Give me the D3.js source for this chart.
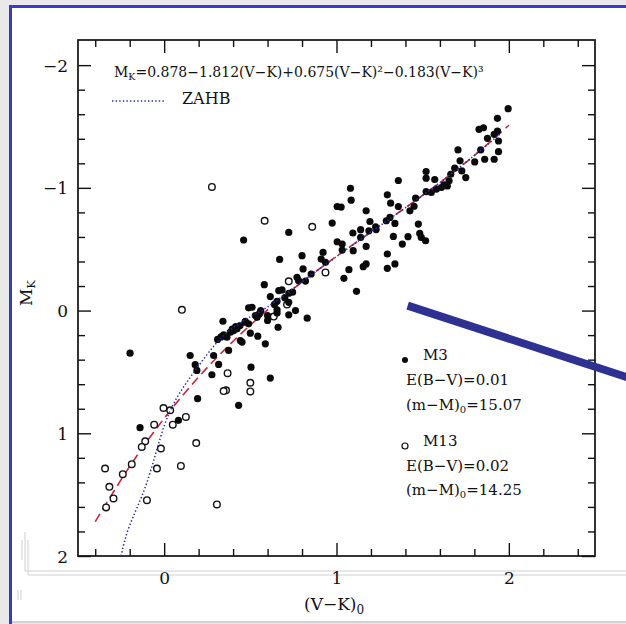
<!DOCTYPE html>
<html>
<head>
<meta charset="utf-8">
<script src="https://cdn.jsdelivr.net/npm/d3@7"></script>
<style>
  html, body { margin: 0; padding: 0; background: #e9e9e9; }
  svg { display: block; }
  text { font-family: "DejaVu Serif", serif; fill: #111; }
</style>
</head>
<body>
<svg id="chart" width="626" height="624"></svg>
<script>
// ---------------- data ----------------
// M3 (filled) : [V-K, MK]
const m3X = [1.996,1.934,1.827,1.853,1.915,1.934,1.876,1.94,1.837,1.94,1.86,1.915,1.802,1.705,1.717,1.686,1.727,1.75,1.663,1.653,1.624,1.609,1.52,1.52,1.57,1.52,1.55,1.459,1.359,1.081,1.085,1.004,1.027,1.295,1.314,1.359,1.426,1.172,1.194,1.227,1.188,1.14,1.095,1.14,1.289,1.31,1.339,1.33,0.975,1.004,1.033,1.033,1.097,1.172,1.475,1.483,1.492,1.517,1.415,1.382,1.295,1.295,1.339,1.172,1.155,1.072,1.043,1.116,0.922,0.911,0.936,0.853,0.8,0.806,1.643,
  0.723,0.461,0.67,0.771,0.78,0.581,0.684,0.665,0.616,0.723,0.723,0.655,0.49,0.51,0.655,0.655,0.6,0.723,0.762,0.83,0.552,0.529,0.539,0.471,0.49,0.341,0.44,0.423,0.403,0.384,0.345,0.364,0.442,0.452,0.5,0.543,0.587,0.661,0.6,
  -0.198,0.151,0.18,0.19,0.287,0.316,0.277,0.374,0.504,0.616,0.194,0.432,-0.14,0.083,
  0.31,0.33,0.395,0.415,0.47,0.56,0.64,0.70,0.745,0.82,1.23,1.45,1.58];
const m3Y = [-1.645,-1.567,-1.477,-1.49,-1.436,-1.463,-1.404,-1.382,-1.309,-1.295,-1.233,-1.233,-1.211,-1.309,-1.22,-1.16,-1.138,-1.084,-1.111,-1.057,-1.024,-1.003,-1.133,-1.079,-1.068,-0.97,-0.962,-0.916,-1.06,-0.997,-0.9,-0.848,-0.843,-0.943,-0.875,-0.848,-0.813,-0.813,-0.726,-0.683,-0.65,-0.659,-0.632,-0.596,-0.732,-0.759,-0.71,-0.604,-0.713,-0.561,-0.542,-0.493,-0.488,-0.523,-0.705,-0.629,-0.596,-0.569,-0.602,-0.542,-0.461,-0.344,-0.38,-0.38,-0.358,-0.333,-0.263,-0.157,-0.474,-0.42,-0.393,-0.298,-0.447,-0.339,-1.016,
  -0.637,-0.575,-0.417,-0.271,-0.244,-0.211,-0.168,-0.163,-0.114,-0.141,-0.067,-0.076,-0.022,-0.027,-0.006,0.019,0.041,0.035,0.0,0.062,0.027,0.041,0.055,0.087,0.108,0.087,0.122,0.149,0.163,0.176,0.198,0.217,0.244,0.257,0.184,0.209,0.271,0.136,0.081,
  0.347,0.366,0.441,0.488,0.366,0.439,0.523,0.325,0.461,0.55,0.718,0.772,0.954,0.894,
  0.235,0.215,0.15,0.13,0.095,0.0,-0.05,-0.105,-0.15,-0.24,-0.66,-0.85,-0.99];

// M13 (open)
const m13X = [0.277,0.583,0.859,0.936,0.723,0.713,0.636,0.103,0.368,0.359,0.345,0.5,0.5,-0.004,0.035,0.05,0.126,-0.058,-0.11,-0.13,-0.019,0.186,-0.188,-0.24,-0.042,0.097,-0.343,-0.318,-0.294,-0.337,-0.1,0.306];
const m13Y = [-1.008,-0.732,-0.683,-0.311,-0.238,-0.049,0.049,-0.006,0.51,0.65,0.656,0.588,0.659,0.794,0.813,0.93,0.867,0.93,1.065,1.111,1.124,1.079,1.252,1.333,1.287,1.266,1.287,1.436,1.531,1.604,1.545,1.58];

// fitted relation (red dashed)
const fitX = [-0.4,-0.2,0,0.2,0.4,0.6,0.8,1.0,1.2,1.4,1.6,1.8,2.0];
const fitY = [1.72,1.27,0.878,0.541,0.25,-0.006,-0.233,-0.442,-0.641,-0.838,-1.043,-1.264,-1.51];

// ZAHB (blue dotted)
const zahbX = [-0.25,-0.2,-0.1,0.0,0.1,0.2,0.3,0.4,0.5,0.6,0.8,1.0,1.2,1.4,1.6,1.8,1.95];
const zahbY = [2.0,1.75,1.40,0.94,0.65,0.45,0.27,0.14,0.05,-0.03,-0.235,-0.44,-0.64,-0.838,-1.043,-1.264,-1.44];

// annotation arrow (thick blue bar), in data coordinates
const barX = [1.413, 2.69];
const barY = [-0.04, 0.545];

const xTicks = [0, 1, 2];
const yTicks = [-2, -1, 0, 1, 2];

// ---------------- layout ----------------
const svg = d3.select("#chart");
const L = 78, R = 595, T = 40, B = 556;
const x = d3.scaleLinear().domain([-0.5, 2.5]).range([L, R]);
const y = d3.scaleLinear().domain([-2.2, 2]).range([T + 0.6, B]);

// slide background
svg.append("rect").attr("x", 0).attr("y", 0).attr("width", 626).attr("height", 624).attr("fill", "#e9e9e9");
svg.append("rect").attr("x", 11).attr("y", 7).attr("width", 615).attr("height", 614).attr("fill", "#ffffff");
svg.append("line").attr("x1", 10.5).attr("x2", 10.5).attr("y1", 6).attr("y2", 624).attr("stroke", "#3a3ac4").attr("stroke-width", 3);
svg.append("line").attr("x1", 9).attr("x2", 626).attr("y1", 6.5).attr("y2", 6.5).attr("stroke", "#3a3ac4").attr("stroke-width", 3);
// faint scan artefacts
const g0 = svg.append("g").attr("stroke", "#cfcfcf").attr("fill", "none");
g0.append("line").attr("x1", 25).attr("x2", 626).attr("y1", 571).attr("y2", 571);
g0.append("line").attr("x1", 28).attr("x2", 626).attr("y1", 575).attr("y2", 575);
g0.append("line").attr("x1", 25).attr("x2", 25).attr("y1", 532).attr("y2", 571);
g0.append("line").attr("x1", 28).attr("x2", 28).attr("y1", 540).attr("y2", 575);
g0.append("line").attr("x1", 22).attr("x2", 22).attr("y1", 540).attr("y2", 560);
g0.append("line").attr("x1", 12).attr("x2", 626).attr("y1", 622).attr("y2", 622).attr("stroke", "#bdbdbd");
g0.append("line").attr("x1", 18).attr("x2", 18).attr("y1", 590).attr("y2", 600);
g0.append("line").attr("x1", 21).attr("x2", 21).attr("y1", 590).attr("y2", 600);

// ---------------- axes ----------------
const major = 13, minor = 7;
const xMinor = d3.range(-0.4, 2.5, 0.2).map(v => +v.toFixed(2)).filter(v => Math.abs(v - Math.round(v)) > 1e-6);
const yMinor = d3.range(-2.2, 2.0, 0.2).map(v => +v.toFixed(2)).filter(v => Math.abs(v - Math.round(v)) > 1e-6 && v > -2.19);

function styleAxis(g) {
  g.select(".domain").remove();
  g.selectAll("line").attr("stroke", "#111").attr("stroke-width", 1.4);
}
// bottom
svg.append("g").attr("transform", `translate(0,${B})`)
  .call(d3.axisBottom(x).tickValues(xTicks).tickSize(-major).tickFormat(d3.format("d")))
  .call(styleAxis)
  .call(g => g.selectAll("text").attr("y", 28).attr("dy", 0).style("font-size", "17px").style("font-family", "DejaVu Serif").style("fill", "#111"));
svg.append("g").attr("transform", `translate(0,${B})`)
  .call(d3.axisBottom(x).tickValues(xMinor).tickSize(-minor).tickFormat(""))
  .call(styleAxis);
// top
svg.append("g").attr("transform", `translate(0,${T})`)
  .call(d3.axisTop(x).tickValues(xTicks).tickSize(-major).tickFormat(""))
  .call(styleAxis);
svg.append("g").attr("transform", `translate(0,${T})`)
  .call(d3.axisTop(x).tickValues(xMinor).tickSize(-minor).tickFormat(""))
  .call(styleAxis);
// left
svg.append("g").attr("transform", `translate(${L},0)`)
  .call(d3.axisLeft(y).tickValues(yTicks).tickSize(-major).tickFormat(d3.format("d")))
  .call(styleAxis)
  .call(g => g.selectAll("text").attr("x", -10).attr("dy", "0.36em").style("font-size", "17px").style("font-family", "DejaVu Serif").style("fill", "#111"));
svg.append("g").attr("transform", `translate(${L},0)`)
  .call(d3.axisLeft(y).tickValues(yMinor).tickSize(-minor).tickFormat(""))
  .call(styleAxis);
// right
svg.append("g").attr("transform", `translate(${R},0)`)
  .call(d3.axisRight(y).tickValues(yTicks).tickSize(-major).tickFormat(""))
  .call(styleAxis);
svg.append("g").attr("transform", `translate(${R},0)`)
  .call(d3.axisRight(y).tickValues(yMinor).tickSize(-minor).tickFormat(""))
  .call(styleAxis);

// frame
svg.append("rect").attr("x", L).attr("y", T).attr("width", R - L).attr("height", B - T)
  .attr("fill", "none").attr("stroke", "#111").attr("stroke-width", 1.7);

// ---------------- marks ----------------
svg.append("clipPath").attr("id", "plotclip")
  .append("rect").attr("x", L).attr("y", T).attr("width", R - L).attr("height", B - T);
const plot = svg.append("g").attr("clip-path", "url(#plotclip)");

const line = d3.line().x(d => x(d[0])).y(d => y(d[1])).curve(d3.curveNatural);

plot.append("path").datum(d3.zip(fitX, fitY)).attr("d", line)
  .attr("fill", "none").attr("stroke", "#c4283a").attr("stroke-width", 1.6)
  .attr("stroke-dasharray", "9,5");

plot.append("g").selectAll("circle").data(d3.zip(m13X, m13Y)).join("circle")
  .attr("cx", d => x(d[0])).attr("cy", d => y(d[1])).attr("r", 3.3)
  .attr("fill", "#fff").attr("stroke", "#111").attr("stroke-width", 1.4);

plot.append("g").selectAll("circle").data(d3.zip(m3X, m3Y)).join("circle")
  .attr("cx", d => x(d[0])).attr("cy", d => y(d[1])).attr("r", 3.6)
  .attr("fill", "#0a0a0a");

plot.append("path").datum(d3.zip(zahbX, zahbY)).attr("d", line)
  .attr("fill", "none").attr("stroke", "#2a2aa8").attr("stroke-width", 1.5)
  .attr("stroke-dasharray", "1.4,2.2");

// ---------------- texts ----------------
const f = svg.append("text").attr("x", 114).attr("y", 77).style("font-size", "14px");
f.append("tspan").text("M");
f.append("tspan").attr("dy", 3).style("font-size", "9.5px").text("K");
f.append("tspan").attr("dy", -3).text("=0.878\u22121.812(V\u2212K)+0.675(V\u2212K)\u00b2\u22120.183(V\u2212K)\u00b3");

svg.append("line").attr("x1", 112).attr("x2", 166).attr("y1", 101).attr("y2", 101)
  .attr("stroke", "#2a2aa8").attr("stroke-width", 1.3).attr("stroke-dasharray", "1.4,2.2");
svg.append("text").attr("x", 182).attr("y", 104).style("font-size", "16px").text("ZAHB");

// y label
const yl = svg.append("text").attr("transform", "translate(32,306) rotate(-90)").style("font-size", "17px");
yl.append("tspan").text("M");
yl.append("tspan").attr("dy", 3).style("font-size", "11px").text("K");

// x label
const xl = svg.append("text").attr("x", 304).attr("y", 610).style("font-size", "17px");
xl.append("tspan").text("(V\u2212K)");
xl.append("tspan").attr("dy", 4).style("font-size", "12px").text("0");

// legend
const lf = "15px";
svg.append("circle").attr("cx", 405).attr("cy", 360).attr("r", 3).attr("fill", "#0a0a0a");
svg.append("text").attr("x", 423).attr("y", 360).style("font-size", lf).text("M3");
svg.append("text").attr("x", 406).attr("y", 385).style("font-size", lf).text("E(B\u2212V)=0.01");
const t1 = svg.append("text").attr("x", 406).attr("y", 410).style("font-size", lf);
t1.append("tspan").text("(m\u2212M)");
t1.append("tspan").attr("dy", 3).style("font-size", "10px").text("0");
t1.append("tspan").attr("dy", -3).text("=15.07");

svg.append("circle").attr("cx", 405).attr("cy", 446).attr("r", 3).attr("fill", "#fff").attr("stroke", "#111").attr("stroke-width", 1.2);
svg.append("text").attr("x", 423).attr("y", 446).style("font-size", lf).text("M13");
svg.append("text").attr("x", 406).attr("y", 471).style("font-size", lf).text("E(B\u2212V)=0.02");
const t2 = svg.append("text").attr("x", 406).attr("y", 495).style("font-size", lf);
t2.append("tspan").text("(m\u2212M)");
t2.append("tspan").attr("dy", 3).style("font-size", "10px").text("0");
t2.append("tspan").attr("dy", -3).text("=14.25");

// thick annotation bar
svg.append("line")
  .attr("x1", x(barX[0])).attr("y1", y(barY[0]))
  .attr("x2", x(barX[1])).attr("y2", y(barY[1]))
  .attr("stroke", "#2e3192").attr("stroke-width", 8);
</script>
</body>
</html>
